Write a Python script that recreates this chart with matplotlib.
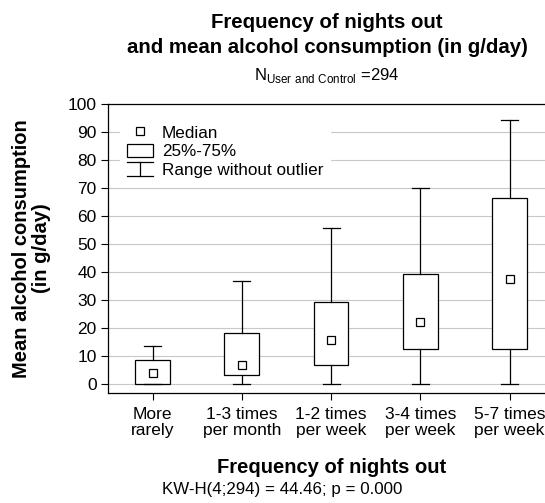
import numpy as np
import matplotlib.pyplot as plt
from matplotlib.lines import Line2D
from matplotlib.patches import Rectangle
from matplotlib.legend_handler import HandlerBase

plt.rcParams['font.family'] = ['Liberation Sans', 'DejaVu Sans']

categories = ['More\nrarely', '1-3 times\nper month', '1-2 times\nper week',
              '3-4 times\nper week', '5-7 times\nper week']
medians = [4.0, 7.0, 15.7, 22.3, 37.7]
q1 = [0.0, 3.1, 7.0, 12.4, 12.4]
q3 = [8.8, 18.3, 29.3, 39.3, 66.3]
whisk_lo = [0.0, 0.0, 0.0, 0.0, 0.0]
whisk_hi = [13.7, 37.0, 55.6, 70.2, 94.2]


class HandlerRange(HandlerBase):
    # I-beam glyph for the whisker range entry
    def create_artists(self, legend, orig_handle, xd, yd, width, height, fontsize, trans):
        cx = xd + width / 2.0
        y0 = yd - height * 0.08
        y1 = yd + height * 0.98
        kw = dict(color='black', lw=0.9, transform=trans)
        return [Line2D([cx, cx], [y0, y1], **kw),
                Line2D([xd, xd + width], [y0, y0], **kw),
                Line2D([xd, xd + width], [y1, y1], **kw)]


fig = plt.figure(figsize=(5.45, 5.03), dpi=100)
ax = fig.add_axes([0.198, 0.219, 0.819, 0.574])

pos = np.arange(len(categories))
stats = []
for i in range(len(categories)):
    stats.append({'med': medians[i], 'q1': q1[i], 'q3': q3[i],
                  'whislo': whisk_lo[i], 'whishi': whisk_hi[i]})

ax.bxp(stats, positions=pos, widths=0.39, capwidths=0.19, showfliers=False,
       patch_artist=True,
       boxprops=dict(facecolor='white', edgecolor='black', linewidth=0.9),
       whiskerprops=dict(color='black', linewidth=0.9),
       capprops=dict(color='black', linewidth=0.9),
       medianprops=dict(linewidth=0),
       zorder=3)
ax.plot(pos, medians, 's', ms=6, mfc='white', mec='black', mew=0.9, ls='none', zorder=4)

ax.set_xlim(-0.5, 4.5)
ax.set_ylim(-3.1, 100)
ax.set_yticks(np.arange(0, 101, 10))
ax.set_xticks(pos)
ax.set_xticklabels(categories, fontsize=12.5, linespacing=1.12)
ax.tick_params(axis='y', labelsize=12.5, direction='out', length=5, width=0.8, pad=3)
ax.tick_params(axis='x', direction='out', length=5, width=0.8, pad=5)
ax.yaxis.grid(True, color='#c8c8c8', linewidth=0.8)
ax.set_axisbelow(True)
for s in ax.spines.values():
    s.set_linewidth(0.9)

ax.set_ylabel('Mean alcohol consumption\n(in g/day)', fontsize=14.5,
              fontweight='bold', linespacing=1.05, labelpad=12)
ax.set_xlabel('Frequency of nights out', fontsize=14.5, fontweight='bold', labelpad=14)

handles = [Line2D([], [], marker='s', ms=6, mfc='white', mec='black', mew=0.9, ls='none'),
           Rectangle((0, 0), 1, 1, facecolor='white', edgecolor='black', linewidth=0.9),
           'range']
labels = ['Median', '25%-75%', 'Range without outlier']
leg = ax.legend(handles, labels, loc='upper left', bbox_to_anchor=(0.016, 0.969),
                fontsize=12.3, handler_map={str: HandlerRange()},
                frameon=True, fancybox=False, framealpha=1, edgecolor='white',
                handlelength=1.55, handleheight=0.8, handletextpad=0.5,
                labelspacing=0.2, borderpad=0.4, borderaxespad=0.3)
leg.set_zorder(5)

fig.text(0.6, 0.975, 'Frequency of nights out\nand mean alcohol consumption (in g/day)',
         ha='center', va='top', fontsize=14.7, fontweight='bold', linespacing=1.42)
fig.text(0.6, 0.85, r'N$_{\mathregular{User\ and\ Control}}$ =294', ha='center',
         va='center', fontsize=12)
fig.text(0.517, 0.026, 'KW-H(4;294) = 44.46; p = 0.000', ha='center', va='center',
         fontsize=12.2)

fig.savefig('out.png', dpi=100)
